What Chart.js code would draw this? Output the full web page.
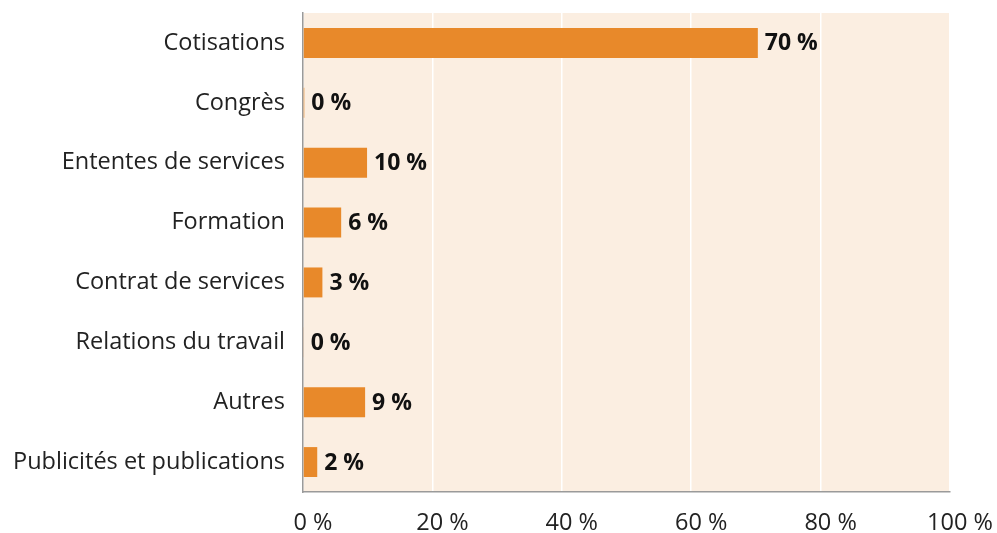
<!DOCTYPE html>
<html>
<head>
<meta charset="utf-8">
<script src="https://cdn.jsdelivr.net/npm/chart.js@4"></script>
<style>
  html, body { margin: 0; padding: 0; background: #fff; }
  #wrap { width: 997px; height: 533px; }
</style>
</head>
<body>
<div id="wrap"><canvas id="revenusChart"></canvas></div>
<script>
// Catégories de revenus et parts (%)
const categories = [
    "Cotisations",
    "Congrès",
    "Ententes de services",
    "Formation",
    "Contrat de services",
    "Relations du travail",
    "Autres",
    "Publicités et publications",
];
const parts = [70.3, 0.2, 9.9, 5.9, 3.0, 0.1, 9.6, 2.2];
const partLabels = ["70 %", "0 %", "10 %", "6 %", "3 %", "0 %", "9 %", "2 %"];
const xTicks = [0, 20, 40, 60, 80, 100];

const FONT = "'Open Sans', 'Noto Sans', sans-serif";

// Fond beige de la zone du graphique
const plotBackground = {
    id: "plotBackground",
    beforeDraw(chart) {
        const { ctx, chartArea } = chart;
        ctx.save();
        ctx.fillStyle = "#FBEEE1";
        ctx.fillRect(chartArea.left, chartArea.top, chartArea.right - chartArea.left, chartArea.bottom - chartArea.top);
        ctx.restore();
    },
};

// Étiquettes en gras au bout des barres
const barLabels = {
    id: "barLabels",
    afterDatasetsDraw(chart) {
        const { ctx } = chart;
        const meta = chart.getDatasetMeta(0);
        ctx.save();
        ctx.font = "bold 23px " + FONT;
        ctx.fillStyle = "#111";
        ctx.textAlign = "left";
        ctx.textBaseline = "middle";
        meta.data.forEach((bar, i) => {
            ctx.fillText(partLabels[i], bar.x + 7, bar.y + 1);
        });
        ctx.restore();
    },
};

new Chart(document.getElementById("revenusChart"), {
    type: "bar",
    data: {
        labels: categories,
        datasets: [
            {
                data: parts,
                backgroundColor: "#E8892A",
                barPercentage: 0.5,
                categoryPercentage: 1,
            },
        ],
    },
    options: {
        indexAxis: "y",
        responsive: true,
        maintainAspectRatio: false,
        animation: false,
        layout: { padding: { top: 13, right: 47, left: 0, bottom: 0 } },
        plugins: {
            legend: { display: false },
            tooltip: { enabled: false },
        },
        scales: {
            x: {
                min: 0,
                max: 100,
                afterBuildTicks(axis) {
                    axis.ticks = xTicks.map((v) => ({ value: v }));
                },
                afterFit(axis) {
                    axis.height = 41;
                    axis.paddingLeft = 0;
                    axis.paddingRight = 0;
                },
                grid: { color: "#ffffff", lineWidth: 1.5, drawTicks: false },
                border: { display: true, color: "#9a9a9a", width: 1.5 },
                ticks: {
                    padding: 17,
                    labelOffset: 10,
                    color: "#222",
                    font: { family: FONT, size: 23.5 },
                    callback: (v) => v + " %",
                },
            },
            y: {
                afterFit(axis) {
                    axis.width = 303;
                    axis.paddingTop = 0;
                    axis.paddingBottom = 0;
                },
                grid: { display: false, drawTicks: false },
                border: { display: true, color: "#9a9a9a", width: 1.5 },
                ticks: {
                    padding: 18,
                    color: "#222",
                    font: { family: FONT, size: 23.5 },
                },
            },
        },
    },
    plugins: [plotBackground, barLabels],
});
</script>
</body>
</html>
